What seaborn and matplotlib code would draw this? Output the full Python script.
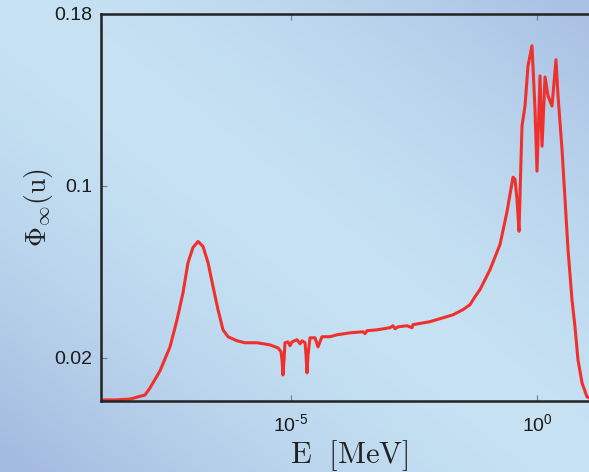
import numpy as np
import pandas as pd
import matplotlib
matplotlib.use("Agg")
import matplotlib.pyplot as plt
import seaborn as sns

# Neutron flux spectrum: log10 of energy (MeV) and flux value
log_energy = [
    -8.862, -8.577, -8.272, -7.967, -7.866, -7.663, -7.459, -7.317, -7.195,
    -7.093, -6.992, -6.890, -6.789, -6.687, -6.585, -6.484, -6.382, -6.280,
    -6.098, -5.935, -5.691, -5.427, -5.264, -5.203, -5.183, -5.163, -5.142,
    -5.122, -5.061, -5.020, -4.980, -4.878, -4.817, -4.776, -4.715, -4.695,
    -4.675, -4.654, -4.614, -4.512, -4.451, -4.370, -4.207, -4.065, -3.801,
    -3.537, -3.496, -3.455, -3.252, -2.988, -2.927, -2.886, -2.825, -2.642,
    -2.541, -2.520, -2.175, -1.911, -1.707, -1.504, -1.362, -1.260, -1.159,
    -0.955, -0.752, -0.610, -0.549, -0.488, -0.447, -0.407, -0.366, -0.325,
    -0.305, -0.244, -0.183, -0.102, -0.041, 0.000, 0.061, 0.102, 0.163,
    0.224, 0.305, 0.386, 0.427, 0.508, 0.569, 0.630, 0.711, 0.772,
    0.833, 0.915, 1.016, 1.179,
]
flux = [
    0.0005, 0.0005, 0.0009, 0.0028, 0.0061, 0.0140, 0.0252, 0.0378, 0.0504,
    0.0644, 0.0714, 0.0742, 0.0719, 0.0644, 0.0532, 0.0425, 0.0331, 0.0299,
    0.0280, 0.0271, 0.0271, 0.0261, 0.0247, 0.0229, 0.0191, 0.0121, 0.0191,
    0.0271, 0.0275, 0.0257, 0.0275, 0.0285, 0.0266, 0.0280, 0.0271, 0.0215,
    0.0131, 0.0215, 0.0294, 0.0294, 0.0252, 0.0299, 0.0299, 0.0308, 0.0317,
    0.0322, 0.0313, 0.0327, 0.0331, 0.0341, 0.0350, 0.0336, 0.0345, 0.0350,
    0.0341, 0.0355, 0.0369, 0.0387, 0.0401, 0.0425, 0.0448, 0.0485, 0.0518,
    0.0611, 0.0728, 0.0880, 0.0961, 0.1041, 0.1031, 0.0938, 0.0789, 0.1125,
    0.1279, 0.1372, 0.1559, 0.1652, 0.1358, 0.1069, 0.1512, 0.1185, 0.1507,
    0.1419, 0.1372, 0.1587, 0.1419, 0.1171, 0.0938, 0.0705, 0.0471, 0.0345,
    0.0191, 0.0084, 0.0019, 0.0005,
]

x_ticks = [1e-5, 1e0]
x_tick_labels = [r"10$^{\text{-5}}$", r"10$^{\text{0}}$"]
y_ticks = [0.02, 0.1, 0.18]
y_tick_labels = ["0.02", "0.1", "0.18"]

df = pd.DataFrame({"E": 10.0 ** np.array(log_energy), "flux": flux})

sns.set_theme(style="white")
plt.rcParams["font.family"] = ["Liberation Sans", "DejaVu Sans"]
plt.rcParams["mathtext.fontset"] = "custom"
plt.rcParams["mathtext.rm"] = "Liberation Sans"

W, H, DPI = 589, 472, 100
fig = plt.figure(figsize=(W / DPI, H / DPI), dpi=DPI)

# Soft diagonal blue backdrop
bg = fig.add_axes([0, 0, 1, 1], zorder=-10)
gx, gy = np.meshgrid(np.linspace(0, 1, 300), np.linspace(0, 1, 240))
u = gx - gy
light = np.array([198, 226, 243]) / 255.0
dark_bl = np.array([164, 187, 224]) / 255.0
dark_tr = np.array([170, 193, 228]) / 255.0
w = np.clip(np.abs(u) * 1.05, 0, 1) ** 1.6
col = np.where((u < 0)[..., None], dark_bl, dark_tr)
img = light * (1 - w[..., None]) + col * w[..., None]
bg.imshow(img, aspect="auto", extent=[0, 1, 0, 1], origin="upper")
bg.set_axis_off()

# Main axes; right side extends past the figure edge
left = 101 / W
bottom = (H - 401) / H
height = (401 - 14) / H
x_lo, x_hi = -8.862, 1.5
px_per_decade = 49.2
width = (x_hi - x_lo) * px_per_decade / W
ax = fig.add_axes([left, bottom, width, height])
ax.set_facecolor("none")

sns.lineplot(data=df, x="E", y="flux", ax=ax, color="#f0302c", linewidth=2.2,
             sort=False, estimator=None)

ax.set_xscale("log")
ax.set_xlim(10 ** x_lo, 10 ** x_hi)
ax.set_ylim(0, 0.18)
ax.set_xticks(x_ticks)
ax.set_xticklabels(x_tick_labels)
ax.set_yticks(y_ticks)
ax.set_yticklabels(y_tick_labels)
ax.minorticks_off()
ax.tick_params(axis="both", direction="in", length=4, width=0.8, color="#777777",
               labelsize=14, labelcolor="#1a1a1a", top=True, bottom=True,
               left=True, pad=6)
ax.tick_params(axis="x", pad=9)

for s in ax.spines.values():
    s.set_color("#222222")
    s.set_linewidth(1.8)
    s.set_visible(True)

ax_px_w = width * W
ax.set_xlabel(r"$\mathrm{E}\ \ [\mathrm{MeV}]$", fontsize=22, math_fontfamily="cm",
              color="#222222")
ax.xaxis.set_label_coords((349 - 101) / ax_px_w, -(438 - 401) / 387)
ax.set_ylabel(r"$\Phi_\infty(\mathrm{u})$", fontsize=20, math_fontfamily="cm",
              color="#222222")
ax.yaxis.set_label_coords(-(101 - 55) / ax_px_w, 0.5)

fig.savefig("out.png", dpi=DPI)
